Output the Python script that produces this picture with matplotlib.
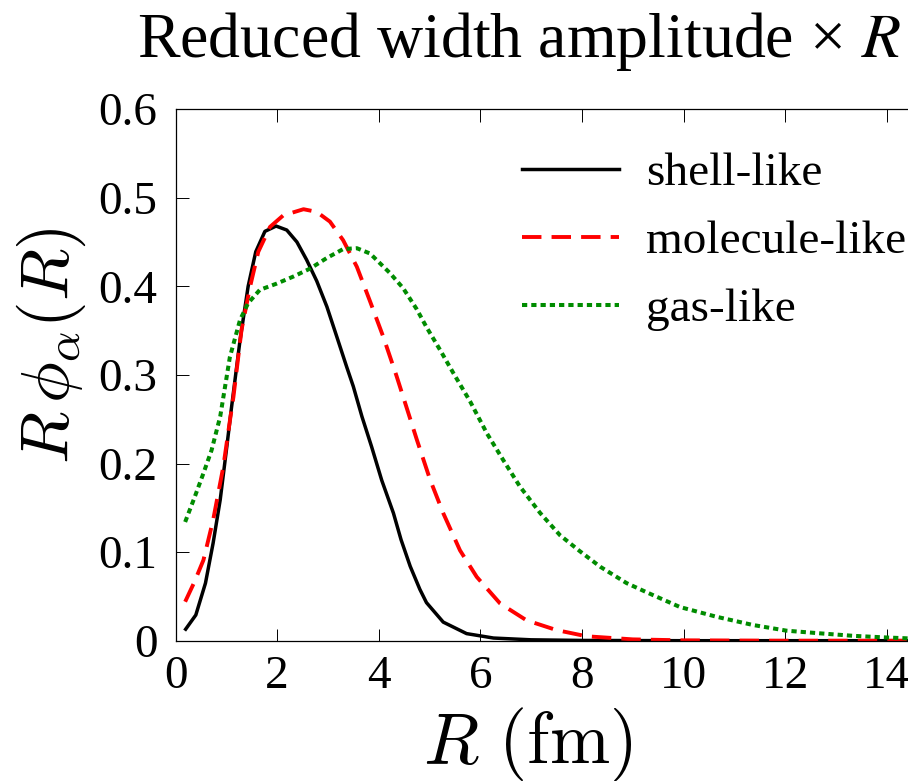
import numpy as np
import matplotlib
matplotlib.use("Agg")
import matplotlib.pyplot as plt

plt.rcParams['font.family'] = ['Liberation Serif', 'DejaVu Serif']
plt.rcParams['mathtext.fontset'] = 'cm'

# --- data ---
shell_x = [0.2, 0.4, 0.59, 0.74, 0.88, 1.01, 1.1, 1.27, 1.43, 1.58, 1.76, 1.98, 2.19, 2.39,
           2.58, 2.78, 2.98, 3.17, 3.37, 3.50, 3.67, 3.86, 4.06, 4.29, 4.44, 4.62, 4.81, 4.94,
           5.27, 5.73, 6.26, 7.0, 8.0, 10.0, 12.0, 15.0]
shell_y = [0.013, 0.029, 0.065, 0.11, 0.159, 0.219, 0.262, 0.339, 0.40, 0.439, 0.462, 0.468,
           0.4635, 0.45, 0.43, 0.406, 0.377, 0.344, 0.309, 0.287, 0.253, 0.219, 0.181, 0.144,
           0.114, 0.084, 0.058, 0.043, 0.021, 0.008, 0.003, 0.001, 0.0003, 0.0, 0.0, 0.0]

molecule_x = [0.19, 0.37, 0.55, 0.74, 0.94, 1.07, 1.14, 1.30, 1.47, 1.63, 1.86, 2.12, 2.52,
              2.78, 3.04, 3.30, 3.57, 3.83, 4.09, 4.35, 4.55, 4.75, 5.01, 5.27, 5.60, 5.93,
              6.39, 6.91, 7.50, 8.09, 9.0, 10.0, 12.0, 15.0]
molecule_y = [0.044, 0.066, 0.091, 0.136, 0.196, 0.248, 0.275, 0.351, 0.40, 0.439, 0.467, 0.48,
              0.487, 0.484, 0.473, 0.452, 0.422, 0.383, 0.343, 0.299, 0.263, 0.227, 0.182,
              0.144, 0.102, 0.072, 0.042, 0.023, 0.012, 0.005, 0.0015, 0.0004, 0.0, 0.0]

gas_x = [0.19, 0.38, 0.55, 0.71, 0.88, 1.07, 1.27, 1.43, 1.66, 1.99, 2.32, 2.65, 2.98, 3.30,
         3.57, 3.83, 4.22, 4.48, 4.75, 4.94, 5.21, 5.47, 5.80, 6.13, 6.45, 6.78, 7.18, 7.57,
         7.96, 8.36, 8.88, 9.28, 9.93, 10.65, 11.37, 12.03, 12.69, 13.34, 13.93, 14.39, 15.0]
gas_y = [0.134, 0.1625, 0.189, 0.215, 0.253, 0.32, 0.362, 0.381, 0.396, 0.403, 0.411, 0.42,
         0.432, 0.442, 0.443, 0.437, 0.415, 0.398, 0.374, 0.354, 0.328, 0.302, 0.270, 0.234,
         0.204, 0.174, 0.144, 0.119, 0.101, 0.0835, 0.065, 0.0545, 0.038, 0.027, 0.0177,
         0.0113, 0.0083, 0.0055, 0.0038, 0.0027, 0.0015]

labels = ['shell-like', 'molecule-like', 'gas-like']
xticks = [0, 2, 4, 6, 8, 10, 12, 14]
yticks = [0, 0.1, 0.2, 0.3, 0.4, 0.5, 0.6]
ytick_labels = ['0', '0.1', '0.2', '0.3', '0.4', '0.5', '0.6']

W, H = 908, 781
fig = plt.figure(figsize=(W / 100, H / 100), dpi=100)
# axes runs past the right edge of the figure, like the cropped original
ax = fig.add_axes([175.5 / W, 140.3 / H, 15 * 50.8 / W, 531.6 / H])

ax.plot(shell_x, shell_y, color='black', lw=2.5, label=labels[0])
ax.plot(molecule_x, molecule_y, color='#ff0000', lw=2.8, dashes=(5.0, 2.6), label=labels[1])
ax.plot(gas_x, gas_y, color='#008c00', lw=2.9, dashes=(1.3, 1.0), label=labels[2])

ax.set_xlim(0, 15)
ax.set_ylim(0, 0.6)
ax.set_xticks(xticks)
ax.set_xticklabels([str(t) for t in xticks])
ax.set_yticks(yticks)
ax.set_yticklabels(ytick_labels)
ax.tick_params(direction='in', length=9, width=0.7, labelsize=34, top=True, right=False)
ax.tick_params(axis='y', pad=13)
ax.tick_params(axis='x', pad=11)
for s in ax.spines.values():
    s.set_linewidth(0.9)

ax.set_xlabel(r'$R\ (\mathrm{fm})$', fontsize=52)
ax.xaxis.set_label_coords((528 - 175.5) / (15 * 50.8), -(706 - 640.7) / 531.6)
ax.set_ylabel(r'$R\,\phi_\alpha(R)$', fontsize=49)
ax.yaxis.set_label_coords(-(175.5 - 88) / (15 * 50.8), (640.7 - 346) / 531.6)

fig.text(519 / W, 1 - 57 / H, 'Reduced width amplitude × $R$', fontsize=46,
         ha='center', va='baseline', math_fontfamily='stix')

ax.legend(loc='upper left', bbox_to_anchor=(521.7 / W, 1 - 152 / H),
          bbox_transform=fig.transFigure, frameon=False, fontsize=34,
          borderpad=0, borderaxespad=0, handlelength=2.05, handletextpad=0.59,
          labelspacing=0.53)

fig.savefig('out.png', dpi=100)
